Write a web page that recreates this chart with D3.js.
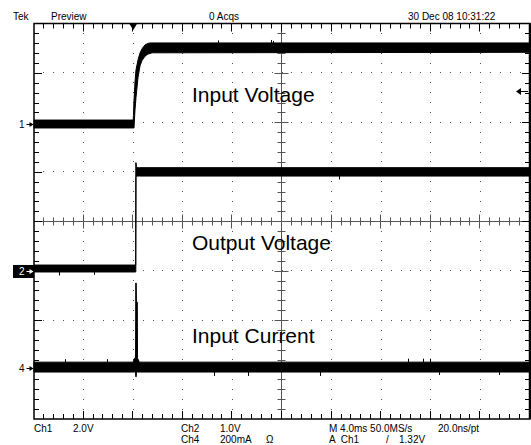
<!DOCTYPE html>
<html><head><meta charset="utf-8">
<script src="https://cdn.jsdelivr.net/npm/d3@7"></script>
<style>
body{margin:0;background:#fff}
svg{display:block}
text{font-family:"Liberation Sans",Arial,sans-serif;fill:#000}
</style>
</head><body>
<svg id="c" width="531" height="445"></svg>
<script>
// ---------- data ----------
// time axis in ms: 4 ms/div, trigger at 2 div from left
const timeTicks = [-8, -4, 0, 4, 8, 12, 16, 20, 24, 28, 32];
const divTicks = [-4, -3, -2, -1, 0, 1, 2, 3, 4];

// Ch1 Input Voltage (V), envelope min/max
const ch1Time = [-8, 0, 0.02, 0.065, 0.145, 0.226, 0.387, 0.548, 0.71, 0.95, 1.19, 1.35, 1.52, 32];
const ch1Max  = [0.16, 0.16, 0.35, 0.97, 1.70, 2.19, 2.59, 2.87, 3.04, 3.20, 3.26, 3.28, 3.28, 3.28];
const ch1Min  = [-0.16, -0.16, -0.16, -0.16, 0.57, 1.07, 1.88, 2.35, 2.57, 2.74, 2.83, 2.85, 2.88, 2.90];
const ch1GlitchT = [6.85, 11.1, 11.3];
const ch1GlitchV = [3.38, 3.40, 3.36];

// Ch2 Output Voltage (V)
const ch2Time = [-8, 0.20, 0.21, 0.23, 0.26, 0.30, 0.50, 32];
const ch2Max  = [0.13, 0.13, 2.20, 2.20, 2.12, 2.10, 2.10, 2.10];
const ch2Min  = [-0.01, -0.01, -0.01, 1.90, 1.92, 1.93, 1.93, 1.93];
const ch2GlitchT = [16.6, -6.0, -3.2];
const ch2GlitchV = [1.86, -0.08, -0.07];

// Ch4 Input Current (mA)
const ch4Time = [-8, 0.0, 0.10, 0.19, 0.21, 0.24, 0.26, 0.33, 0.35, 0.50, 32];
const ch4Max  = [24, 24, 40, 40, 344, 344, 267, 267, 40, 24, 24];
const ch4Min  = [-16, -16, -16, -16, -35, -35, -16, -16, -16, -16, -16];
const ch4GlitchT = [6.51, 9.25, 15.06, 24.65, 29.48, 22.15, 23.36, 23.93, -5.5, -2.1];
const ch4GlitchV = [-32, -32, -32, -28, -28, 38, 38, 38, 36, 36];

const traceLabels = ["Input Voltage", "Output Voltage", "Input Current"];
const perDiv = [2.0, 1.0, 200];          // Ch1 V/div, Ch2 V/div, Ch4 mA/div
const groundDiv = [1.967, -1.016, -2.97]; // channel ground positions (div above centre)
const triggerLevel = 1.32;                // V on Ch1

const headerTexts = ["Tek", "Preview", "0 Acqs", "30 Dec 08 10:31:22"];
const footerRow1 = ["Ch1", "2.0V", "Ch2", "1.0V", "M 4.0ms 50.0MS/s", "20.0ns/pt"];
const footerRow2 = ["Ch4", "200mA", "\u03A9", "A  Ch1", "/", "1.32V"];

// ---------- drawing ----------
const svg = d3.select("#c");
const L = 34, R = 530, T = 23.5, B = 419;
const x = d3.scaleLinear().domain([timeTicks[0], timeTicks[timeTicks.length-1]]).range([L, R]);
const yDiv = d3.scaleLinear().domain([4, -4]).range([T, B]);
const chY = (i) => (v) => yDiv(groundDiv[i] + v / perDiv[i]);

const px = v => Math.round(v) + 0.5;

// dotted grid
const gGrid = svg.append("g");
const minorT = d3.range(1, 50).map(m => -8 + m * 0.8);
const minorD = d3.range(-19, 20).map(k => k * 0.2);
timeTicks.slice(1, -1).filter(t => t !== 12).forEach(t => {
  minorD.forEach(d => gGrid.append("rect").attr("x", Math.floor(x(t))).attr("y", Math.floor(yDiv(d)))
    .attr("width", 1).attr("height", 1).attr("fill", "#555"));
});
divTicks.slice(1, -1).filter(d => d !== 0).forEach(d => {
  minorT.forEach(t => gGrid.append("rect").attr("x", Math.floor(x(t))).attr("y", Math.floor(yDiv(d)))
    .attr("width", 1).attr("height", 1).attr("fill", "#555"));
});

// centre cross lines with ticks
const cx = px(x(12)) - 1, cy = px(yDiv(0));
const gC = svg.append("g").attr("stroke", "#555").attr("stroke-width", 1);
gC.append("line").attr("x1", L).attr("x2", R).attr("y1", cy).attr("y2", cy);
gC.append("line").attr("x1", cx).attr("x2", cx).attr("y1", T).attr("y2", B);
minorT.forEach((t, i) => {
  const h = ((i + 1) % 5 === 0) ? 7 : 4;
  gC.append("line").attr("x1", px(x(t)) - 1).attr("x2", px(x(t)) - 1).attr("y1", cy - h).attr("y2", cy + h);
});
minorD.forEach((d, i) => {
  const h = ((i + 1) % 5 === 0) ? 7 : 4;
  gC.append("line").attr("y1", px(yDiv(d))).attr("y2", px(yDiv(d))).attr("x1", cx - h).attr("x2", cx + h);
});

// border with ticks
const gB = svg.append("g").attr("stroke", "#000");
gB.append("rect").attr("x", L).attr("y", T).attr("width", R - L).attr("height", B - T)
  .attr("fill", "none").attr("stroke-width", 1.5);
gB.append("line").attr("x1", R).attr("x2", R).attr("y1", T).attr("y2", B).attr("stroke-width", 2.5);
minorT.forEach((t, i) => {
  const h = ((i + 1) % 5 === 0) ? 8 : 5;
  const xx = px(x(t)) - 1;
  gB.append("line").attr("x1", xx).attr("x2", xx).attr("y1", T).attr("y2", T + h).attr("stroke-width", 1);
  gB.append("line").attr("x1", xx).attr("x2", xx).attr("y1", B).attr("y2", B - h).attr("stroke-width", 1);
});
minorD.forEach((d, i) => {
  const h = ((i + 1) % 5 === 0) ? 8 : 5;
  const yy = px(yDiv(d));
  gB.append("line").attr("y1", yy).attr("y2", yy).attr("x1", L).attr("x2", L + h).attr("stroke-width", 1);
  gB.append("line").attr("y1", yy).attr("y2", yy).attr("x1", R).attr("x2", R - h).attr("stroke-width", 1);
});

// traces
const traces = [
  [ch1Time, ch1Min, ch1Max, ch1GlitchT, ch1GlitchV],
  [ch2Time, ch2Min, ch2Max, ch2GlitchT, ch2GlitchV],
  [ch4Time, ch4Min, ch4Max, ch4GlitchT, ch4GlitchV]];
traces.forEach(([tt, mn, mx, gt, gv], i) => {
  const y = chY(i);
  const pts = tt.map((t, k) => [t, mn[k], mx[k]]);
  const area = d3.area().x(d => x(d[0])).y0(d => y(d[1])).y1(d => y(d[2]));
  svg.append("path").attr("d", area(pts)).attr("fill", "#000").attr("stroke", "#000").attr("stroke-width", 1);
  // small noise spikes beyond the band envelope, starting from the band centre at that time
  const midAt = d3.scaleLinear().domain(tt).range(tt.map((t, k) => (mn[k] + mx[k]) / 2));
  gt.forEach((t, k) => {
    svg.append("line").attr("x1", px(x(t))).attr("x2", px(x(t)))
      .attr("y1", y(midAt(t))).attr("y2", y(gv[k])).attr("stroke", "#000").attr("stroke-width", 1);
  });
});

// trace labels
const labelPos = [[192, 101.5], [192, 250], [192, 343]];
traceLabels.forEach((s, i) => svg.append("text").attr("x", labelPos[i][0]).attr("y", labelPos[i][1])
  .attr("font-size", 21).text(s));

// channel markers
function arrow(g, xx, yy, col) {
  g.append("line").attr("x1", xx).attr("x2", xx + 6).attr("y1", yy).attr("y2", yy).attr("stroke", col).attr("stroke-width", 1);
  g.append("path").attr("d", `M${xx + 7},${yy} L${xx + 3},${yy - 2.5} L${xx + 3},${yy + 2.5} Z`).attr("fill", col);
}
const g1 = svg.append("g");
const y1g = chY(0)(0);
g1.append("text").attr("x", 19).attr("y", y1g + 4).attr("font-size", 10).text("1");
arrow(g1, 26.5, Math.round(y1g) + 0.5, "#000");
const y2g = chY(1)(0);
g1.append("rect").attr("x", 13).attr("y", y2g - 6.5).attr("width", 21).attr("height", 13).attr("fill", "#000");
g1.append("text").attr("x", 19).attr("y", y2g + 4).attr("font-size", 10).style("fill", "#fff").text("2");
arrow(g1, 26.5, Math.round(y2g) + 0.5, "#fff");
const y4g = chY(2)(0);
g1.append("text").attr("x", 19).attr("y", y4g + 4).attr("font-size", 10).text("4");
arrow(g1, 26.5, Math.round(y4g) + 0.5, "#000");

// trigger position marker (top) and trigger level marker (right)
const tx = x(0);
svg.append("path").attr("d", `M${tx - 4},${T} L${tx + 4},${T} L${tx},${T + 6.5} Z`).attr("fill", "#000");
const ty = Math.round(chY(0)(triggerLevel)) + 0.5;
svg.append("line").attr("x1", 519).attr("x2", 528).attr("y1", ty).attr("y2", ty).attr("stroke", "#000");
svg.append("path").attr("d", `M516,${ty} L521,${ty - 3.5} L521,${ty + 3.5} Z`).attr("fill", "#000");

// header & footer text
const headerX = [13, 51, 209, 408];
headerTexts.forEach((s, i) => svg.append("text").attr("x", headerX[i]).attr("y", 19.5).attr("font-size", 10).text(s));
const f1X = [34, 73, 181, 220, 329, 438];
footerRow1.forEach((s, i) => svg.append("text").attr("x", f1X[i]).attr("y", 431.5).attr("font-size", 10).text(s));
const f2X = [181, 220, 266, 329, 386, 399];
footerRow2.forEach((s, i) => svg.append("text").attr("x", f2X[i]).attr("y", 443).attr("font-size", 10)
  .attr("xml:space", "preserve").style("white-space", "pre").text(s));
</script>
</body></html>
